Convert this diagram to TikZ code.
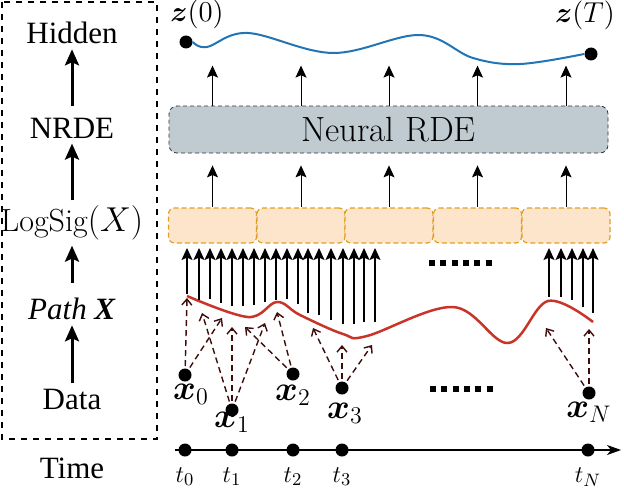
\documentclass[tikz,border=0pt]{standalone}
\usepackage{amsmath}
\usepackage{fontspec}
\newfontfamily\timesfont{Liberation Serif}[ItalicFont={Liberation Serif Italic},
    BoldFont={Liberation Serif Bold}, BoldItalicFont={Liberation Serif Bold Italic}]
\usetikzlibrary{arrows.meta, positioning}
\definecolor{rdegray}{RGB}{191,203,209}
\definecolor{sigpeach}{RGB}{253,229,204}
\definecolor{sigamber}{RGB}{225,160,35}
\definecolor{hidblue}{RGB}{33,117,182}
\definecolor{pathred}{RGB}{200,52,40}
\definecolor{obsbrown}{RGB}{62,12,12}
\tikzset{stage/.style={font=\timesfont\fontsize{15.5}{18}\selectfont, inner sep=2.5pt},
         flow/.style={-{Stealth[length=8pt,width=7pt,inset=1.5pt]}, line width=1.5pt},
         blob/.style={circle, fill=black, inner sep=0pt, minimum size=6.5pt},
         rdebox/.style={draw=black!80, dash pattern=on 2pt off 1.5pt, fill=rdegray, rounded corners=4pt,
                        minimum width=219.5pt, minimum height=23.5pt, font=\fontsize{17.5}{20}\selectfont},
         sigbox/.style={draw=sigamber, dash pattern=on 2.5pt off 1.5pt, line width=0.6pt, fill=sigpeach,
                        rounded corners=3pt, minimum width=44pt, minimum height=17.5pt},
         feed/.style={-{Stealth[length=6pt,width=5.5pt,inset=1.2pt]}, line width=0.5pt},
         sample/.style={-{Stealth[length=6pt,width=5.5pt,inset=1.2pt]}, line width=0.6pt},
         obs/.style={-{Straight Barb[length=3pt,width=5pt]}, obsbrown, line width=0.7pt,
                     dash pattern=on 3pt off 2pt, shorten <=1pt},
         ellip/.style={line width=3pt, dash pattern=on 3pt off 2.65pt},
         xlab/.style={font=\fontsize{17}{20}\selectfont, inner sep=1pt},
         tlab/.style={font=\fontsize{13}{15}\selectfont, inner sep=1pt},
         zlab/.style={font=\fontsize{14}{16}\selectfont, inner sep=1pt},
        }

\begin{document}
\begin{tikzpicture}[x=0.5pt,y=-0.5pt]
        \useasboundingbox (0,0) rectangle (624,492);

        % left legend
        \draw[dashed, line width=0.6pt] (2,2) rectangle (157,439);
        \node[stage](hidden)at(72,33){Hidden};
        \node[stage](nrde)at(72,128){NRDE};
        \node[stage, font=\fontsize{16}{19}\selectfont](logsig)at(72,223){LogSig$(X)$};
        \node[stage](path)at(72,309){\textit{Path} \textbf{\textit{X}}};
        \node[stage](data)at(72,399){Data};
        \node[stage](time)at(72,468){Time};
        \draw[flow](data)--(path);
        \draw[flow, shorten <=5pt](path)--(logsig);
        \draw[flow](logsig)--(nrde);
        \draw[flow, shorten <=3pt](nrde)--(hidden);

        % hidden state
        \node[blob, label={[zlab, xshift=5.5pt, label distance=2pt]above:$\boldsymbol{z}(0)$}](z0)at(186,42){};
        \node[blob, label={[zlab, xshift=-3pt, label distance=7.5pt]above:$\boldsymbol{z}(T)$}](zT)at(591,54){};
        \draw[hidblue, line width=1pt] plot[smooth, tension=0.6] coordinates
            {(z0.east) (207,47) (248,33) (333,53) (420,35) (473,58) (520,64) (zT.west)};

        % neural RDE and log-signature windows
        \node[rdebox](rde)at(388.5,129.5){Neural RDE};
        \foreach \i/\x in {1/212.5, 2/301, 3/389, 4/477.5, 5/566}{
            \node[sigbox](ls\i)at(\x,225.5){};
            \draw[feed](ls\i.north)--([yshift=-6pt]ls\i.north |- rde.south);
            \draw[feed](ls\i.north |- rde.north)--++(0,-40);
        }

        % path X
        \draw[pathred, line width=1.25pt] plot[smooth, tension=0.6] coordinates
            {(187,296) (248,317) (277,302) (300,315) (343,334) (367,336) (453,307)
             (508,343) (548,301) (593,322)};
        \foreach \x/\y in {187/294, 199/300, 210/299, 221/303, 232/306, 243/306, 254/305,
                           265/302, 276/300, 287/299, 298/304, 308/313, 319/315, 331/320,
                           343/324, 354/324, 364/322, 375/322,
                           549/297, 561/297, 572/300, 583/307, 593/313}
            \draw[sample](\x,\y)--(\x,248);
        \draw[ellip](429,263)--(494,263);

        % observations
        \node[blob, label={[xlab, xshift=3pt]below:$\boldsymbol{x}_0$}](x0)at(185,375){};
        \node[blob, label={[xlab, yshift=3.5pt]below:$\boldsymbol{x}_1$}](x1)at(232,410){};
        \node[blob, label={[xlab, label distance=1pt]below:$\boldsymbol{x}_2$}](x2)at(293,374){};
        \node[blob, label={[xlab, xshift=1.5pt, label distance=3pt]below:$\boldsymbol{x}_3$}](x3)at(342,388){};
        \node[blob, label={[xlab]below:$\boldsymbol{x}_N$}](xN)at(589,393){};
        \draw[ellip](430,389)--(494,389);
        \foreach \s/\tx/\ty in {x0/187/298, x0/222/318, x1/202/313, x1/232/327, x1/265/323,
                                x2/245/327, x2/277/312, x3/313/328, x3/342/345, x3/372/345,
                                xN/546/328, xN/589/329}
            \draw[obs](\s)--(\tx,\ty);

        % time axis
        \coordinate(tstart)at(175,450);
        \coordinate(tend)at(621,450);
        \draw[-{Stealth[length=7pt,width=5pt,inset=2pt]}, line width=0.6pt](tstart)--(tend);
        \foreach \n/\x/\l in {t0/185/0, t1/232/1, t2/293/2, t3/342/3, tN/588/N}
            \node[blob, label={[tlab, label distance=4pt]below:$t_{\l}$}](\n)at(\x,450){};
\end{tikzpicture}
\end{document}
